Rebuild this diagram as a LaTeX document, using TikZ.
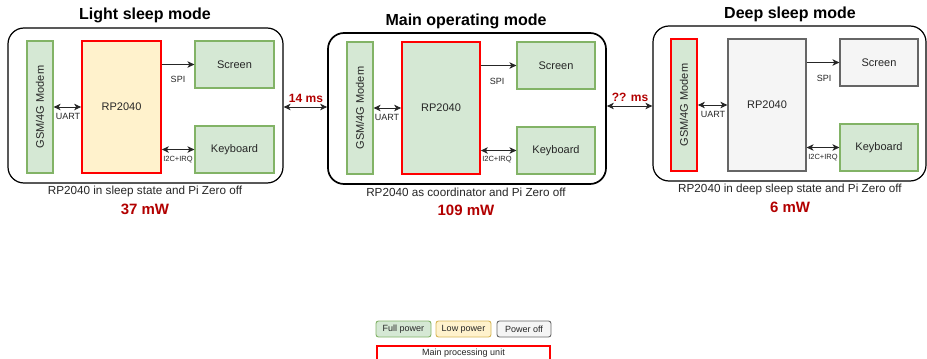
\documentclass[tikz,border=0pt]{standalone}
\usepackage{fontspec}
\setmainfont{Liberation Sans}
\usetikzlibrary{arrows.meta,calc}
\definecolor{gfill}{HTML}{D5E8D4}
\definecolor{gline}{HTML}{82B366}
\definecolor{yfill}{HTML}{FFF2CC}
\definecolor{yline}{HTML}{D6B656}
\definecolor{ofill}{HTML}{F5F5F5}
\definecolor{oline}{HTML}{666666}
\definecolor{dred}{HTML}{B20000}
\newcommand\fsz[1]{\fontsize{#1}{#1}\selectfont}
\tikzset{
  panel/.style={draw=black, line width=1.2pt, rounded corners=16pt, fill=white, inner sep=0pt},
  blk/.style={line width=1.2pt, inner sep=0pt, align=center, font=\fsz{11}, text=black!85},
  fullbox/.style={blk, draw=gline, fill=gfill},
  lowbox/.style={blk, draw=yline, fill=yfill},
  offbox/.style={blk, draw=oline, fill=ofill},
  mpu/.style={draw=red, line width=1.7pt},
  lbl/.style={font=\fsz{9}, text=black!85, inner sep=0pt},
  smalllbl/.style={font=\fsz{7.5}, text=black!85, inner sep=0pt},
  ttl/.style={font=\fsz{16}\bfseries, inner sep=0pt},
  captxt/.style={font=\fsz{11.7}, text=black!85, inner sep=0pt},
  pwr/.style={font=\fsz{15}\bfseries, text=dred, inner sep=0pt},
  tms/.style={font=\fsz{12}\bfseries, text=dred, inner sep=0pt},
  tip/.tip={Stealth[length=7pt,width=6.5pt,inset=2pt]},
  arr/.style={draw=black!85, line width=1pt, -tip},
  darr/.style={draw=black!85, line width=1pt, tip-tip},
  leg/.style={line width=0.9pt, rounded corners=2.5pt, inner sep=0pt, font=\fsz{9}, text=black!85},
}
% box by corners
\newcommand\bx[7]{\node[#1, minimum width={(#5-#3)*1pt}, minimum height={(#6-#4)*1pt}] (#2) at ({(#3+#5)/2},{(#4+#6)/2}) {#7};}
% vertical box with rotated text
\newcommand\vbx[7]{\node[#1, rotate=90, minimum height={(#5-#3)*1pt}, minimum width={(#6-#4)*1pt}] (#2) at ({(#3+#5)/2},{(#4+#6)/2}) {#7};}
\begin{document}
\begin{tikzpicture}[x=1pt, y=-1pt]
\useasboundingbox (0,0) rectangle (927,359);

% ---------- Light sleep mode ----------
\node[ttl] (tL) at (145,15) {Light sleep mode};
\bx{panel}{pL}{8}{28}{283}{183}{}
\vbx{fullbox}{modemL}{27}{41}{53}{173}{GSM/4G Modem}
\bx{lowbox,mpu}{rpL}{82}{41}{161}{173}{RP2040}
\bx{fullbox}{scrL}{195}{41}{274}{88}{Screen}
\bx{fullbox}{kbL}{195}{126}{274}{173}{Keyboard}
\draw[arr] (rpL.east |- scrL.west) -- (scrL.west);
\draw[darr] (modemL.south) -- (rpL.west);
\draw[darr] (rpL.east |- kbL.west) -- (kbL.west);
\node[lbl] (spiL) at (178,79) {SPI};
\node[lbl] (uartL) at (68,116) {UART};
\node[smalllbl] (i2cL) at (178,160) {I2C+IRQ};
\node[captxt] (cL) at (145,191) {RP2040 in sleep state and Pi Zero off};
\node[pwr] (wL) at (145,209) {37 mW};

% ---------- Main operating mode ----------
\node[ttl] (tM) at (466,21) {Main operating mode};
\bx{panel, line width=1.7pt}{pM}{328}{33}{606}{184}{}
\vbx{fullbox}{modemM}{347}{42}{373}{174}{GSM/4G Modem}
\bx{fullbox,mpu}{rpM}{402}{42}{480}{174}{RP2040}
\bx{fullbox}{scrM}{517}{42}{595}{89}{Screen}
\bx{fullbox}{kbM}{517}{127}{595}{174}{Keyboard}
\draw[arr] (rpM.east |- scrM.west) -- (scrM.west);
\draw[darr] (modemM.south) -- (rpM.west);
\draw[darr] (rpM.east |- kbM.west) -- (kbM.west);
\node[lbl] (spiM) at (497,81) {SPI};
\node[lbl] (uartM) at (387,117) {UART};
\node[smalllbl] (i2cM) at (497,160) {I2C+IRQ};
\node[captxt] (cM) at (466,192) {RP2040 as coordinator and Pi Zero off};
\node[pwr] (wM) at (466,210) {109 mW};

% ---------- Deep sleep mode ----------
\node[ttl] (tR) at (790,14) {Deep sleep mode};
\bx{panel}{pR}{653}{26}{926}{181}{}
\vbx{fullbox,mpu}{modemR}{671}{39}{697}{171}{GSM/4G Modem}
\bx{offbox}{rpR}{728}{39}{806}{171}{RP2040}
\bx{offbox}{scrR}{840}{39}{918}{86}{Screen}
\bx{fullbox}{kbR}{840}{124}{918}{171}{Keyboard}
\draw[arr] (rpR.east |- scrR.west) -- (scrR.west);
\draw[darr] (modemR.south) -- (rpR.west);
\draw[darr] (rpR.east |- kbR.west) -- (kbR.west);
\node[lbl] (spiR) at (824,78) {SPI};
\node[lbl] (uartR) at (713,114) {UART};
\node[smalllbl] (i2cR) at (823,158) {I2C+IRQ};
\node[captxt] (cR) at (790,189) {RP2040 in deep sleep state and Pi Zero off};
\node[pwr] (wR) at (790,207) {6 mW};

% ---------- transitions ----------
\coordinate (aL) at (pL.east |- 0,107);
\coordinate (aM1) at (pM.west |- 0,107);
\coordinate (aM2) at (pM.east |- 0,106);
\coordinate (aR) at (pR.west |- 0,106);
\draw[darr] (aL) -- (aM1);
\draw[darr] (aM2) -- (aR);
\node[tms] (t14) at (306,98) {14 ms};
\node[tms] (tqq) at (630,97) {?? ms};

% ---------- legend ----------
\bx{leg, draw=gline, fill=gfill}{lgF}{376}{321}{431}{337}{Full power}
\bx{leg, draw=yline, fill=yfill}{lgL}{436}{321}{491}{337}{Low power}
\bx{leg, draw=oline, fill=ofill}{lgO}{497}{321}{551}{337}{Power off}
\draw[mpu, fill=white] (377,346) rectangle (550,366);
\node[lbl] (lgM) at (463.5,353) {Main processing unit};
\end{tikzpicture}
\end{document}
